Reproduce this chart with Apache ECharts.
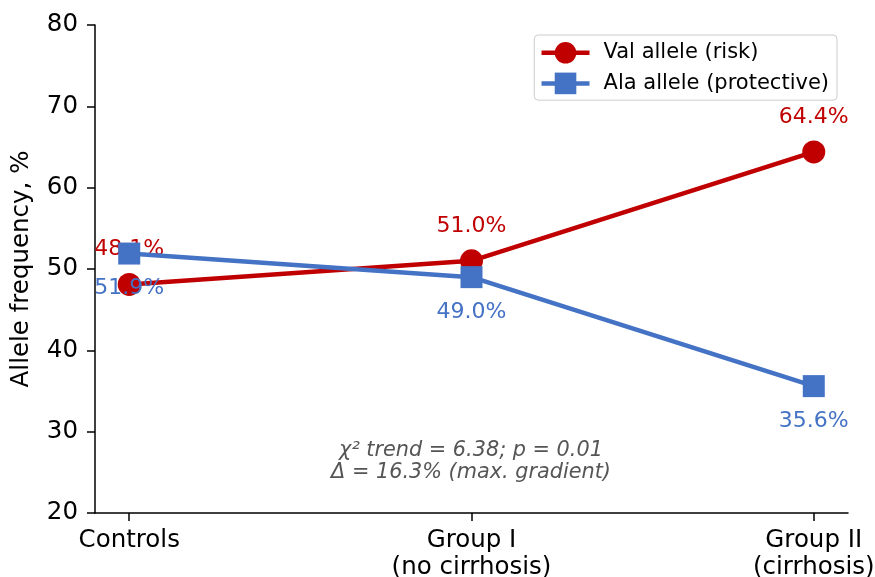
<!DOCTYPE html>
<html>
<head>
<meta charset="utf-8">
<script src="https://cdn.jsdelivr.net/npm/echarts@6/dist/echarts.min.js"></script>
<style>
  html, body { margin: 0; padding: 0; background: #fff; }
  #chart { width: 875px; height: 577px; }
</style>
</head>
<body>
<div id="chart"></div>
<script>
// Groups along the x axis
const groups = ['Controls', 'Group I\n(no cirrhosis)', 'Group II\n(cirrhosis)'];
// Allele frequencies, %
const valAllele = [48.1, 51.0, 64.4];
const alaAllele = [51.9, 49.0, 35.6];
// Y axis ticks
const yTicks = [20, 30, 40, 50, 60, 70, 80];

const RED = '#c00000';
const BLUE = '#4472c4';
const FONT = 'DejaVu Sans';

const chart = echarts.init(document.getElementById('chart'));

const toPoints = arr => arr.map((v, i) => [i, v]);

chart.setOption({
  animation: false,
  grid: { left: 95, right: 27, top: 25, bottom: 64, containLabel: false, outerBoundsMode: 'none' },
  legend: {
    orient: 'vertical',
    right: 38,
    top: 35,
    padding: [7, 8, 6, 5],
    itemGap: 9,
    itemWidth: 48,
    itemHeight: 27,
    backgroundColor: '#fff',
    borderColor: '#cccccc',
    borderWidth: 1,
    borderRadius: 4,
    lineStyle: { width: 4.5 },
    textStyle: { fontFamily: FONT, fontSize: 21, color: '#000', padding: [0, 0, 0, 9] },
    data: ['Val allele (risk)', 'Ala allele (protective)']
  },
  xAxis: {
    type: 'value',
    min: -0.1,
    max: 2.1,
    splitLine: { show: false },
    axisLine: { onZero: false, lineStyle: { color: '#000', width: 1.5 } },
    axisTick: { show: true, length: 8, customValues: [0, 1, 2], lineStyle: { color: '#000', width: 1.5 } },
    axisLabel: {
      customValues: [0, 1, 2],
      formatter: v => groups[Math.round(v)],
      fontFamily: FONT, fontSize: 24.5, color: '#000',
      lineHeight: 27, margin: 14
    }
  },
  yAxis: {
    type: 'value',
    min: yTicks[0],
    max: yTicks[yTicks.length - 1],
    interval: 10,
    name: 'Allele frequency, %',
    nameLocation: 'middle',
    nameGap: 61,
    nameTextStyle: { fontFamily: FONT, fontSize: 24.5, color: '#000' },
    splitLine: { show: false },
    axisLine: { show: true, onZero: false, lineStyle: { color: '#000', width: 1.5 } },
    axisTick: { show: true, length: 8, lineStyle: { color: '#000', width: 1.5 } },
    axisLabel: { fontFamily: FONT, fontSize: 24.5, color: '#000', margin: 17 }
  },
  series: [
    {
      name: 'Val allele (risk)',
      type: 'line',
      data: toPoints(valAllele),
      symbol: 'circle',
      symbolSize: 23,
      lineStyle: { color: RED, width: 4.5 },
      itemStyle: { color: RED },
      z: 2,
      label: {
        show: true,
        position: 'inside',
        offset: [0, -35],
        formatter: p => p.value[1].toFixed(1) + '%',
        fontFamily: FONT, fontSize: 22, color: RED
      }
    },
    {
      name: 'Ala allele (protective)',
      type: 'line',
      data: toPoints(alaAllele),
      symbol: 'rect',
      symbolSize: 22,
      lineStyle: { color: BLUE, width: 4.5 },
      itemStyle: { color: BLUE },
      z: 3,
      label: {
        show: true,
        position: 'inside',
        offset: [0, 35],
        formatter: p => p.value[1].toFixed(1) + '%',
        fontFamily: FONT, fontSize: 22, color: BLUE
      }
    }
  ],
  graphic: [
    {
      type: 'text',
      x: 471,
      y: 462,
      style: {
        text: 'χ² trend = 6.38; p = 0.01\nΔ = 16.3% (max. gradient)',
        fontFamily: FONT, fontSize: 20.8, fontStyle: 'italic',
        fill: '#555555', align: 'center', verticalAlign: 'middle', lineHeight: 22
      }
    }
  ]
});
</script>
</body>
</html>
